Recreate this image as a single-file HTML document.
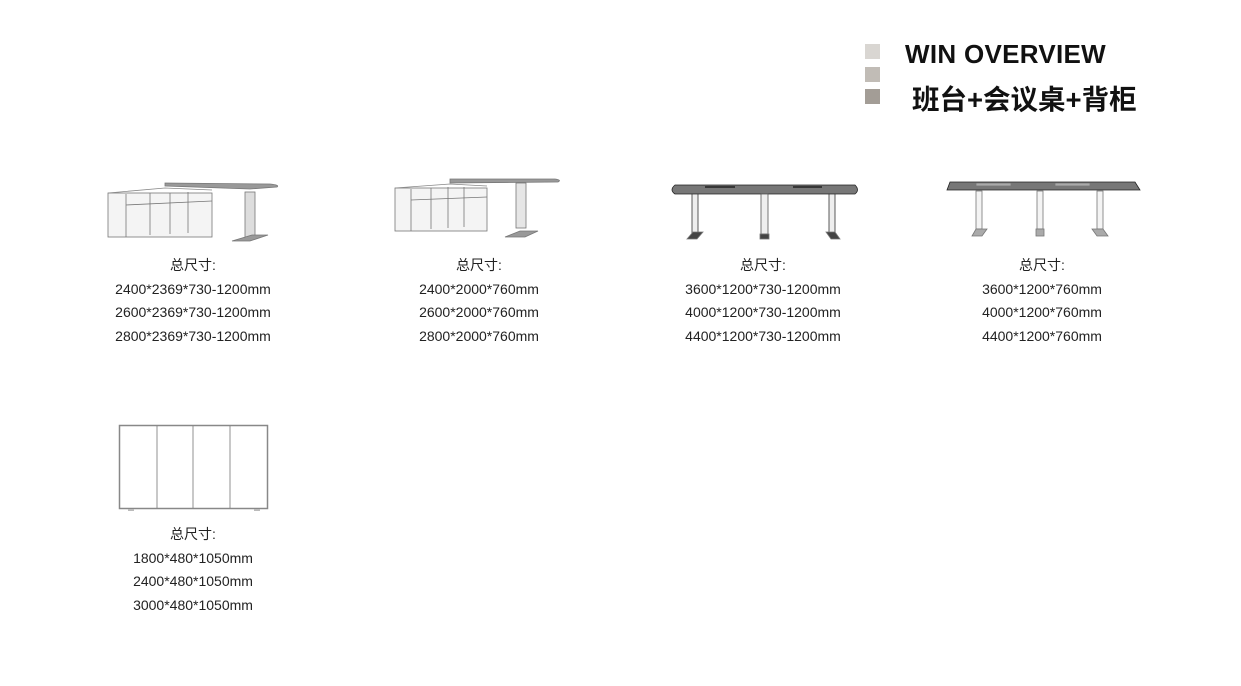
<!DOCTYPE html>
<html><head><meta charset="utf-8"><style>
body{margin:0;background:#fff;width:1241px;height:686px;overflow:hidden;position:relative;font-family:"Liberation Sans","Noto Sans CJK SC",sans-serif;}
.sq{position:absolute;left:865px;width:15px;height:15px}
.t{position:absolute;text-align:center;width:260px;font-size:14px;color:#222;line-height:23.5px}
svg{position:absolute;left:0;top:0}
</style></head><body>
<div class="sq" style="top:44px;background:#d9d6d2"></div>
<div class="sq" style="top:67px;background:#c1bcb6"></div>
<div class="sq" style="top:89px;background:#a39d96"></div>
<div style="position:absolute;left:905px;top:39px;font-size:26px;font-weight:bold;color:#111;letter-spacing:0.3px">WIN OVERVIEW</div>
<div style="position:absolute;left:912px;top:77px;font-size:27.5px;font-weight:bold;color:#111;font-family:'Liberation Sans','Noto Sans CJK SC',sans-serif">班台+会议桌+背柜</div>

<svg width="1241" height="686" fill="none" stroke="#777" stroke-width="0.8">
<!-- desk 1 -->
<rect x="108" y="193" width="104" height="44" fill="#f4f4f4"/>
<path d="M108 193 L165 188 L212 190" stroke="#888"/>
<line x1="126" y1="194" x2="126" y2="237"/><line x1="150" y1="193" x2="150" y2="235"/><line x1="170" y1="193" x2="170" y2="234"/><line x1="188" y1="192" x2="188" y2="233"/><line x1="126" y1="205" x2="212" y2="201"/>
<path d="M165 183 L270 184 Q280 185 277 187 L250 189 L165 186 Z" fill="#999"/>
<rect x="245" y="192" width="10" height="45" fill="#ddd"/>
<path d="M232 241 L252 235 L268 235 L250 241 Z" fill="#999"/>
<!-- desk 2 -->
<rect x="395" y="188" width="92" height="43" fill="#f4f4f4"/>
<path d="M395 188 L450 184 L487 186" stroke="#888"/>
<line x1="411" y1="189" x2="411" y2="231"/><line x1="431" y1="188" x2="431" y2="229"/><line x1="448" y1="187" x2="448" y2="228"/><line x1="464" y1="187" x2="464" y2="227"/><line x1="411" y1="200" x2="487" y2="197"/>
<path d="M450 179 L555 179 Q562 180 558 182 L450 183 Z" fill="#999"/>
<rect x="516" y="183" width="10" height="45" fill="#e6e6e6"/>
<path d="M505 237 L520 231 L538 231 L525 237 Z" fill="#999"/>
<!-- table 3 -->
<path d="M675 185 L855 185 Q860 190 855 194 L675 194 Q669 190 675 185 Z" fill="#777" stroke="#222"/>
<line x1="705" y1="187" x2="735" y2="187" stroke="#222" stroke-width="1.5"/><line x1="793" y1="187" x2="822" y2="187" stroke="#222" stroke-width="1.5"/>
<rect x="692" y="194" width="6" height="40" fill="#eee" stroke="#333"/>
<rect x="761" y="194" width="7" height="40" fill="#eee" stroke="#555"/>
<rect x="829" y="194" width="6" height="40" fill="#eee" stroke="#333"/>
<path d="M687 239 L693 232 L703 232 L697 239 Z" fill="#444"/><rect x="760" y="234" width="9" height="5" fill="#444"/><path d="M826 232 L835 232 L840 239 L831 239 Z" fill="#444"/>
<!-- table 4 -->
<path d="M950 182 L1135 182 L1140 190 L947 190 Z" fill="#777" stroke="#222"/>
<rect x="976" y="183" width="35" height="3" fill="#aaa"/><rect x="1055" y="183" width="35" height="3" fill="#aaa"/>
<rect x="976" y="191" width="6" height="38" fill="#f4f4f4"/><rect x="1037" y="191" width="6" height="38" fill="#f4f4f4"/><rect x="1097" y="191" width="6" height="38" fill="#f4f4f4"/>
<path d="M972 236 L976 229 L987 229 L982 236 Z" fill="#aaa"/><rect x="1036" y="229" width="8" height="7" fill="#aaa"/><path d="M1092 229 L1103 229 L1108 236 L1097 236 Z" fill="#aaa"/>
<!-- cabinet -->
<rect x="119.5" y="425.5" width="148" height="83" stroke="#888" stroke-width="1.5" fill="#fff"/>
<line x1="157" y1="426" x2="157" y2="508"/><line x1="193" y1="426" x2="193" y2="508"/><line x1="230" y1="426" x2="230" y2="508"/>
<line x1="128" y1="510" x2="134" y2="510" stroke="#bbb" stroke-width="2"/><line x1="254" y1="510" x2="260" y2="510" stroke="#bbb" stroke-width="2"/>
</svg>

<div class="t" style="left:63px;top:254px">总尺寸:<br>2400*2369*730-1200mm<br>2600*2369*730-1200mm<br>2800*2369*730-1200mm</div>
<div class="t" style="left:349px;top:254px">总尺寸:<br>2400*2000*760mm<br>2600*2000*760mm<br>2800*2000*760mm</div>
<div class="t" style="left:633px;top:254px">总尺寸:<br>3600*1200*730-1200mm<br>4000*1200*730-1200mm<br>4400*1200*730-1200mm</div>
<div class="t" style="left:912px;top:254px">总尺寸:<br>3600*1200*760mm<br>4000*1200*760mm<br>4400*1200*760mm</div>
<div class="t" style="left:63px;top:523px">总尺寸:<br>1800*480*1050mm<br>2400*480*1050mm<br>3000*480*1050mm</div>
</body></html>
